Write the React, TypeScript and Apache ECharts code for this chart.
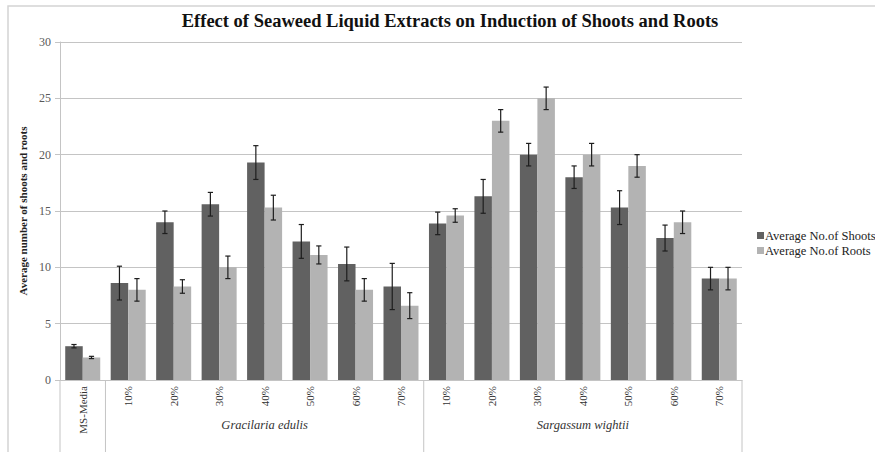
import React, { useEffect, useRef } from "react";
import * as echarts from "echarts";

// Treatments along the x axis
const groups = ["Gracilaria edulis", "Sargassum wightii"];
const concentrations = ["10%", "20%", "30%", "40%", "50%", "60%", "70%"];
const tickLabels = ["MS-Media", ...concentrations, ...concentrations];
const categoryKeys = [
  "MS-Media",
  ...concentrations.map((c) => `${groups[0]} ${c}`),
  ...concentrations.map((c) => `${groups[1]} ${c}`),
];

// Mean counts and their error margins
const shoots = [3.0, 8.6, 14.0, 15.6, 19.3, 12.3, 10.3, 8.3, 13.9, 16.3, 20.0, 18.0, 15.3, 12.6, 9.0];
const shootsErr = [0.15, 1.5, 1.0, 1.05, 1.5, 1.5, 1.5, 2.05, 1.0, 1.5, 1.0, 1.0, 1.5, 1.15, 1.0];
const roots = [2.0, 8.0, 8.3, 10.0, 15.3, 11.1, 8.0, 6.6, 14.6, 23.0, 25.0, 20.0, 19.0, 14.0, 9.0];
const rootsErr = [0.1, 1.0, 0.6, 1.0, 1.1, 0.8, 1.0, 1.15, 0.6, 1.0, 1.0, 1.0, 1.0, 1.0, 1.0];

const yTicks = { min: 0, max: 30, interval: 5 };

const SERIF = "'Liberation Serif', 'Times New Roman', serif";
const SHOOT_COLOR = "#616161";
const ROOT_COLOR = "#b3b3b3";
const LINE_COLOR = "#c4c4c4";
const CATEGORY_GAP = 0.23;

function errorBarSeries(values: number[], errs: number[], side: number) {
  return {
    type: "custom",
    silent: true,
    z: 5,
    data: values.map((v, i) => [i, v - errs[i], v + errs[i]]),
    renderItem: (_params: any, api: any) => {
      const idx = api.value(0);
      const band = api.size([1, 0])[0];
      const barW = (band * (1 - CATEGORY_GAP)) / 2;
      const lo = api.coord([idx, api.value(1)]);
      const hi = api.coord([idx, api.value(2)]);
      const x = lo[0] + (side * barW) / 2;
      const cap = 2.6;
      const style = { stroke: "#1e1e1e", lineWidth: 1.2 };
      return {
        type: "group",
        children: [
          { type: "line", shape: { x1: x, y1: hi[1], x2: x, y2: lo[1] }, style },
          { type: "line", shape: { x1: x - cap, y1: hi[1], x2: x + cap, y2: hi[1] }, style },
          { type: "line", shape: { x1: x - cap, y1: lo[1], x2: x + cap, y2: lo[1] }, style },
        ],
      };
    },
  };
}

export default function App() {
  const ref = useRef<HTMLDivElement>(null);

  useEffect(() => {
    if (!ref.current) return;
    const chart = echarts.init(ref.current, undefined, { renderer: "svg" });

    const option: any = {
      animation: false,
      backgroundColor: "#ffffff",
      title: {
        text: "Effect of Seaweed Liquid Extracts on Induction of Shoots and Roots",
        left: 445,
        textAlign: "center",
        top: 6,
        textStyle: { fontFamily: SERIF, fontSize: 18.5, fontWeight: "bold", color: "#111" },
      },
      legend: {
        orient: "vertical",
        left: 752,
        top: 224,
        itemWidth: 7,
        itemHeight: 7,
        itemGap: 2,
        icon: "rect",
        data: ["Average No.of Shoots", "Average No.of Roots"],
        textStyle: { fontFamily: SERIF, fontSize: 12.5, color: "#222", padding: [0, 0, 0, -4] },
      },
      grid: { left: 60, right: 133, top: 42, bottom: 72 },
      xAxis: {
        type: "category",
        data: categoryKeys,
        axisLine: { show: true, lineStyle: { color: LINE_COLOR, width: 1 } },
        axisTick: { show: false },
        axisLabel: {
          interval: 0,
          rotate: 90,
          margin: 6,
          fontFamily: SERIF,
          fontSize: 11,
          color: "#333",
          formatter: (_v: string, i: number) => tickLabels[i],
        },
      },
      yAxis: {
        type: "value",
        ...yTicks,
        name: "Average number of shoots and roots",
        nameLocation: "middle",
        nameRotate: 90,
        nameGap: 29,
        nameTextStyle: { fontFamily: SERIF, fontSize: 11, fontWeight: "bold", color: "#222" },
        axisLine: { show: true, lineStyle: { color: LINE_COLOR } },
        axisTick: { show: true, length: 5, lineStyle: { color: LINE_COLOR } },
        axisLabel: { fontFamily: SERIF, fontSize: 12, color: "#595959", margin: 9 },
        splitLine: { lineStyle: { color: LINE_COLOR, width: 1.2 } },
      },
      series: [
        {
          name: "Average No.of Shoots",
          type: "bar",
          data: shoots,
          barGap: "0%",
          barCategoryGap: `${CATEGORY_GAP * 100}%`,
          itemStyle: { color: SHOOT_COLOR },
        },
        {
          name: "Average No.of Roots",
          type: "bar",
          data: roots,
          barGap: "0%",
          barCategoryGap: `${CATEGORY_GAP * 100}%`,
          itemStyle: { color: ROOT_COLOR },
        },
        errorBarSeries(shoots, shootsErr, -1),
        errorBarSeries(roots, rootsErr, 1),
      ],
    };
    chart.setOption(option);

    // Group brackets below the axis: dividers between treatment groups and italic group names
    const px = (i: number) => chart.convertToPixel({ xAxisIndex: 0 }, i) as number;
    const band = px(1) - px(0);
    const edge = (i: number) => px(i) - band / 2;
    const yBase = chart.convertToPixel({ yAxisIndex: 0 }, 0) as number;
    const n = categoryKeys.length;
    const g1Start = 1;
    const g2Start = 1 + concentrations.length;
    const dividers = [0, g1Start, g2Start, n];
    const lineStyle = { stroke: LINE_COLOR, lineWidth: 1 };
    const elements: any[] = dividers.map((i) => ({
      type: "line",
      shape: { x1: edge(i), y1: yBase, x2: edge(i), y2: 460 },
      style: lineStyle,
    }));
    [
      [g1Start, g2Start],
      [g2Start, n],
    ].forEach(([a, b], k) => {
      elements.push({
        type: "text",
        x: (edge(a) + edge(b)) / 2,
        y: yBase + 45,
        style: {
          text: groups[k],
          font: `italic 12.5px ${SERIF}`,
          fill: "#333",
          align: "center",
          verticalAlign: "middle",
        },
      });
    });
    // outer chart frame
    elements.push({
      type: "rect",
      shape: { x: 8, y: 6, width: 900, height: 500 },
      style: { fill: "none", stroke: "#d4d4d4", lineWidth: 1.5 },
      z: -1,
    });
    chart.setOption({ graphic: elements });

    return () => chart.dispose();
  }, []);

  return <div ref={ref} style={{ width: 875, height: 452, position: "absolute", left: 0, top: 0 }} />;
}
